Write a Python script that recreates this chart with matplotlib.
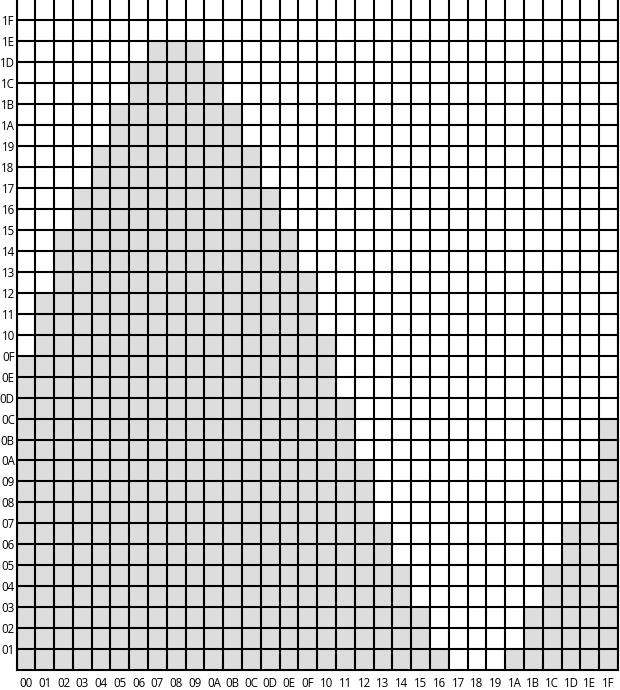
import matplotlib
matplotlib.use("Agg")
import matplotlib.pyplot as plt

# column indices and filled heights (number of shaded cells per column)
columns = list(range(32))
heights = [15, 18, 21, 23, 25, 27, 29, 30, 30, 30, 29, 27, 25, 23, 21, 19,
           16, 13, 10, 7, 5, 3, 1, 0, 0, 0, 1, 3, 5, 7, 9, 12]
x_labels = [f"{i:02X}" for i in columns]
y_levels = list(range(1, 32))
y_labels = [f"{i:02X}" for i in y_levels]

W, H = 620, 690
fig = plt.figure(figsize=(W / 100, H / 100), dpi=100)
ax = fig.add_axes([16.5 / W, 20 / H, 601.5 / W, 670.5 / H])

ax.bar(columns, heights, width=1.0, align="edge", color="#dddddd",
       edgecolor="none", zorder=1)

ax.set_xlim(0, 32)
ax.set_ylim(0, 32)

# x labels centred on columns, vertical grid lines at column borders
ax.set_xticks([c + 0.5 for c in columns])
ax.set_xticklabels(x_labels)
ax.set_xticks(range(33), minor=True)
ax.set_yticks(y_levels)
ax.set_yticklabels(y_labels)

ax.grid(True, which="minor", axis="x", color="black", linewidth=1.5)
ax.grid(True, which="major", axis="y", color="black", linewidth=1.5)
ax.set_axisbelow(False)

ax.tick_params(axis="both", which="both", length=0)
ax.tick_params(axis="x", pad=5)
ax.tick_params(axis="y", pad=1.2)
for lab in ax.get_xticklabels() + ax.get_yticklabels():
    lab.set_fontfamily(["Open Sans", "DejaVu Sans"])
    lab.set_fontsize(8.3)
    lab.set_color("black")

ax.spines["top"].set_visible(False)
for s in ["left", "bottom", "right"]:
    ax.spines[s].set_linewidth(1.5)
    ax.spines[s].set_color("black")

fig.savefig("out.png", dpi=100)
